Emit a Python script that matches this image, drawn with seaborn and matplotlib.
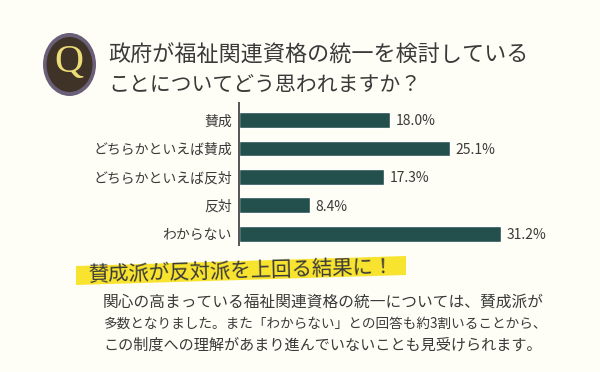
import matplotlib.pyplot as plt
from matplotlib.patches import Ellipse, Polygon
import seaborn as sns
import pandas as pd

categories = ['賛成', 'どちらかといえば賛成', 'どちらかといえば反対', '反対', 'わからない']
values = [18.0, 25.1, 17.3, 8.4, 31.2]
value_labels = ['18.0%', '25.1%', '17.3%', '8.4%', '31.2%']
title_lines = ['政府が福祉関連資格の統一を検討している', 'ことについてどう思われますか？']
headline = '賛成派が反対派を上回る結果に！'
body_lines = ['関心の高まっている福祉関連資格の統一については、賛成派が',
              '多数となりました。また「わからない」との回答も約3割いることから、',
              'この制度への理解があまり進んでいないことも見受けられます。']

BG = '#fefef6'
BAR = '#234f4d'
TEXT = '#3a3a3a'
W, H = 600, 372

sns.set_theme(style='white')
plt.rcParams['font.family'] = ['Noto Sans CJK JP', 'DejaVu Sans']

fig = plt.figure(figsize=(6, 3.72), dpi=100, facecolor=BG)

# page layer in pixel coordinates
bg = fig.add_axes([0, 0, 1, 1])
bg.set_xlim(0, W)
bg.set_ylim(H, 0)
bg.axis('off')

bg.add_patch(Ellipse((69.5, 64.5), 53, 63, color='#6a5f78', lw=0))
bg.add_patch(Ellipse((69.5, 64.5), 46, 55, color='#3f3328', lw=0))
bg.text(69, 62, 'Q', color='#ecdc78', fontsize=29, family='Liberation Serif',
        ha='center', va='center')

bg.text(108, 56, title_lines[0], fontsize=15.9, color=TEXT, va='center', ha='left')
bg.text(108, 85, title_lines[1], fontsize=15, color=TEXT, va='center', ha='left')

bg.add_patch(Polygon([(76, 266), (406, 256), (406, 275), (76, 285)],
                     color='#f8e32f', lw=0))
bg.text(88, 281, headline, fontsize=14.7, color=TEXT, va='baseline', ha='left',
        rotation=1.5, rotation_mode='anchor')

for y, line, size in zip([302, 323.5, 345], body_lines, [11.3, 9.8, 10.9]):
    bg.text(103, y, line, fontsize=size, color=TEXT, va='center', ha='left')

# bar chart
ax = fig.add_axes([239 / W, 1 - 245 / H, (W - 239) / W, 142 / H])
ax.patch.set_alpha(0)
df = pd.DataFrame({'category': categories, 'value': values})
sns.barplot(data=df, x='value', y='category', color=BAR, saturation=1,
            width=0.56, ax=ax)
ax.set_xlim(0, (W - 239) / 8.4)
ax.set_ylim(4.39, -0.6)
ax.set_xlabel('')
ax.set_ylabel('')
ax.set_xticks([])
sns.despine(ax=ax, left=False, bottom=True)
ax.spines['left'].set_color('#555555')
ax.spines['left'].set_linewidth(1.4)
ax.tick_params(axis='y', length=0, pad=5, labelsize=10, labelcolor=TEXT)

for i, label in enumerate(value_labels):
    ax.annotate(label, (values[i], i), xytext=(4, -1), textcoords='offset points',
                va='center', ha='left', fontsize=10, color=TEXT)

plt.savefig('out.png', dpi=100, facecolor=BG)
plt.close()
